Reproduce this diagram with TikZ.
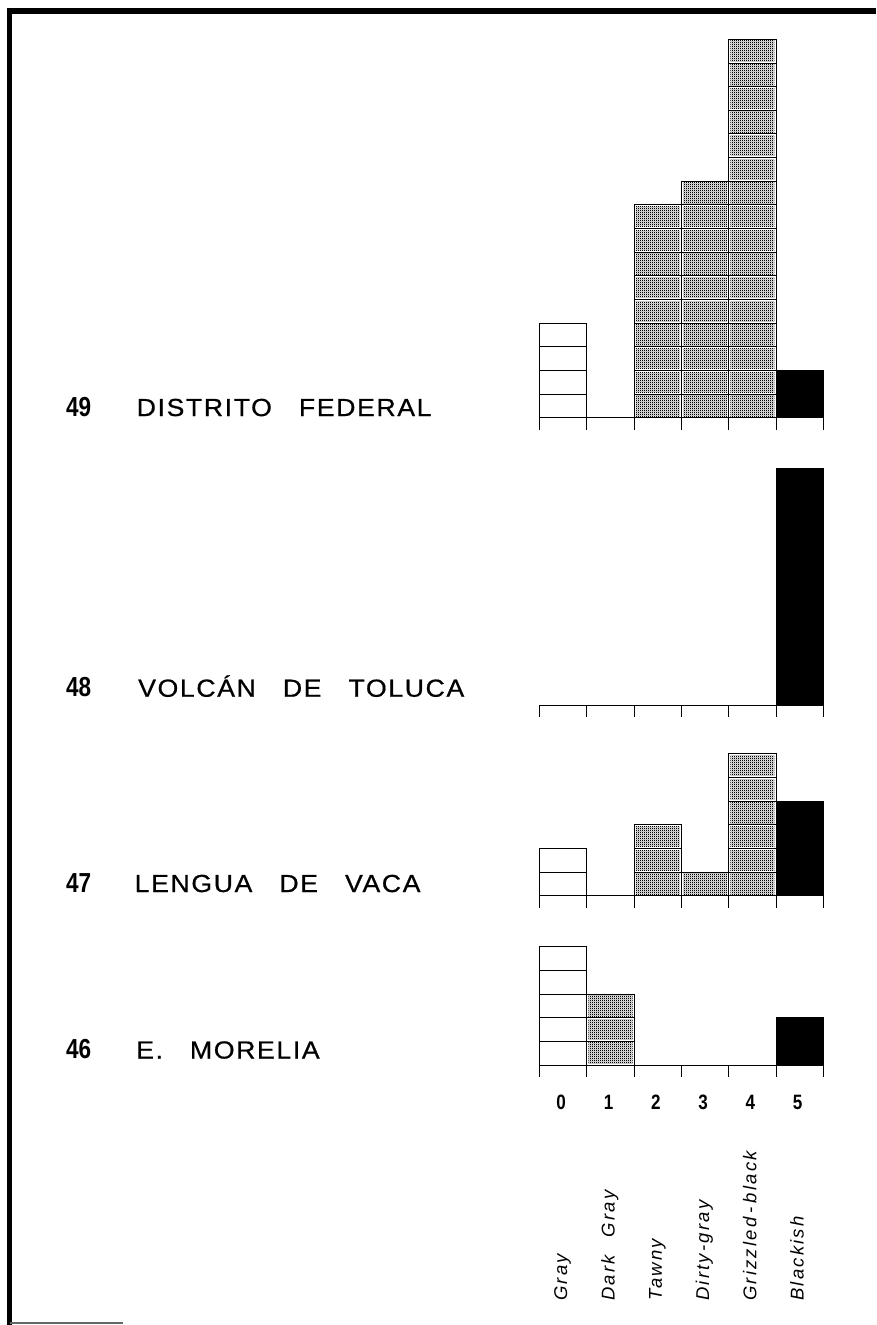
\documentclass[tikz,border=0pt]{standalone}
\usepackage{graphicx}
\usepackage{fontspec}
\usetikzlibrary{patterns}
\setmainfont{Liberation Sans}
\newfontfamily\sitefont[LetterSpace=6, FakeBold=0.6]{Liberation Sans}
\newfontfamily\colourfont[LetterSpace=12]{Liberation Sans}
\newcommand{\wgap}{\hspace{25pt}}
\newcommand{\narrow}[1]{\scalebox{0.82}[1]{#1}}
\newcommand{\wide}[1]{\scalebox{1.08}[1]{#1}}

% fine checker of dots for the stippled classes
\pgfdeclarepatternformonly{stip}{\pgfpointorigin}{\pgfpoint{2pt}{2pt}}{\pgfpoint{2pt}{2pt}}{
  \pgfpathrectangle{\pgfpointorigin}{\pgfpoint{1.2pt}{1.2pt}}
  \pgfpathrectangle{\pgfpoint{1pt}{1pt}}{\pgfpoint{1.2pt}{1.2pt}}
  \pgfusepath{fill}}

\tikzset{
  frame/.style={line width=5.5pt},
  cell/.style={draw=black, line width=0.9pt},
  plain/.style={cell, fill=white},
  dots/.style={cell, fill=white, path picture={
      \fill[pattern=stip, pattern color=black] ([shift={(1.6pt,1.6pt)}]path picture bounding box.south west)
        rectangle ([shift={(-1.6pt,-1.6pt)}]path picture bounding box.north east);}},
  ink/.style={cell, fill=black},
  axis/.style={line width=0.9pt},
  sitenum/.style={anchor=base west, inner sep=0pt, font=\fontsize{27.5}{30}\selectfont\bfseries},
  sitename/.style={anchor=base west, inner sep=0pt, font=\sitefont\fontsize{24.7}{28}\selectfont},
  classnum/.style={anchor=base, inner sep=0pt, font=\fontsize{20.8}{22}\selectfont\bfseries},
  classname/.style={anchor=base west, rotate=90, inner sep=0pt, font=\colourfont\itshape\fontsize{18.5}{20}\selectfont},
}

% one histogram: #1 baseline, #2 count/style per class
\newcommand{\histo}[2]{%
  \begin{scope}[shift={(539.5,#1)}, x=47.3pt, y=23.65pt]
    \foreach \n/\sty [count=\i from 0] in {#2}{
      \ifnum\n>0
        \foreach \k in {1,...,\n} \draw[\sty] (\i,\k-1) rectangle (\i+1,\k);
      \fi}
    \draw[axis] (0,0) -- (6,0);
    \foreach \t in {0,...,6} \draw[axis] (\t,0) -- (\t,-0.5);
  \end{scope}}

\begin{document}
\begin{tikzpicture}[x=1pt, y=-1pt]
  \useasboundingbox (0,0) rectangle (876,1325);
  % frame
  \draw[frame] (876,11) -- (9.7,11) -- (9.7,1325);
  \draw[line width=1.5pt, black!60] (9.7,1323) -- (123,1323);

  % histograms
  \histo{417.7}{4/plain,0/dots,9/dots,10/dots,16/dots,2/ink}
  \histo{705}{0/plain,0/dots,0/dots,0/dots,0/dots,10/ink}
  \histo{895.7}{2/plain,0/dots,3/dots,1/dots,6/dots,4/ink}
  \histo{1065}{5/plain,3/dots,0/dots,0/dots,0/dots,2/ink}

  % localities
  \node[sitenum] (n49) at (66,416) {\narrow{49}};
  \node[sitename] (s49) at (136.5,416) {\wide{DISTRITO\wgap FEDERAL}};
  \node[sitenum] (n48) at (66,696.7) {\narrow{48}};
  \node[sitename] (s48) at (138,696.7) {\wide{VOLCÁN\wgap DE\wgap TOLUCA}};
  \node[sitenum] (n47) at (66,892) {\narrow{47}};
  \node[sitename] (s47) at (134.5,892) {\wide{LENGUA\wgap DE\wgap VACA}};
  \node[sitenum] (n46) at (66,1058.5) {\narrow{46}};
  \node[sitename] (s46) at (136,1058.5) {\wide{E.\wgap MORELIA}};

  % classes
  \foreach \c/\lbl in {0/Gray, 1/Dark\hspace{18pt}Gray, 2/Tawny, 3/Dirty-gray,
                       4/Grizzled\kern4pt-\kern4pt black, 5/Blackish}{
    \node[classnum] (c\c) at (561.2+47.3*\c,1109) {\narrow{\c}};
    \node[classname] (l\c) at (567.2+47.3*\c,1301) {\lbl};
  }
\end{tikzpicture}
\end{document}
